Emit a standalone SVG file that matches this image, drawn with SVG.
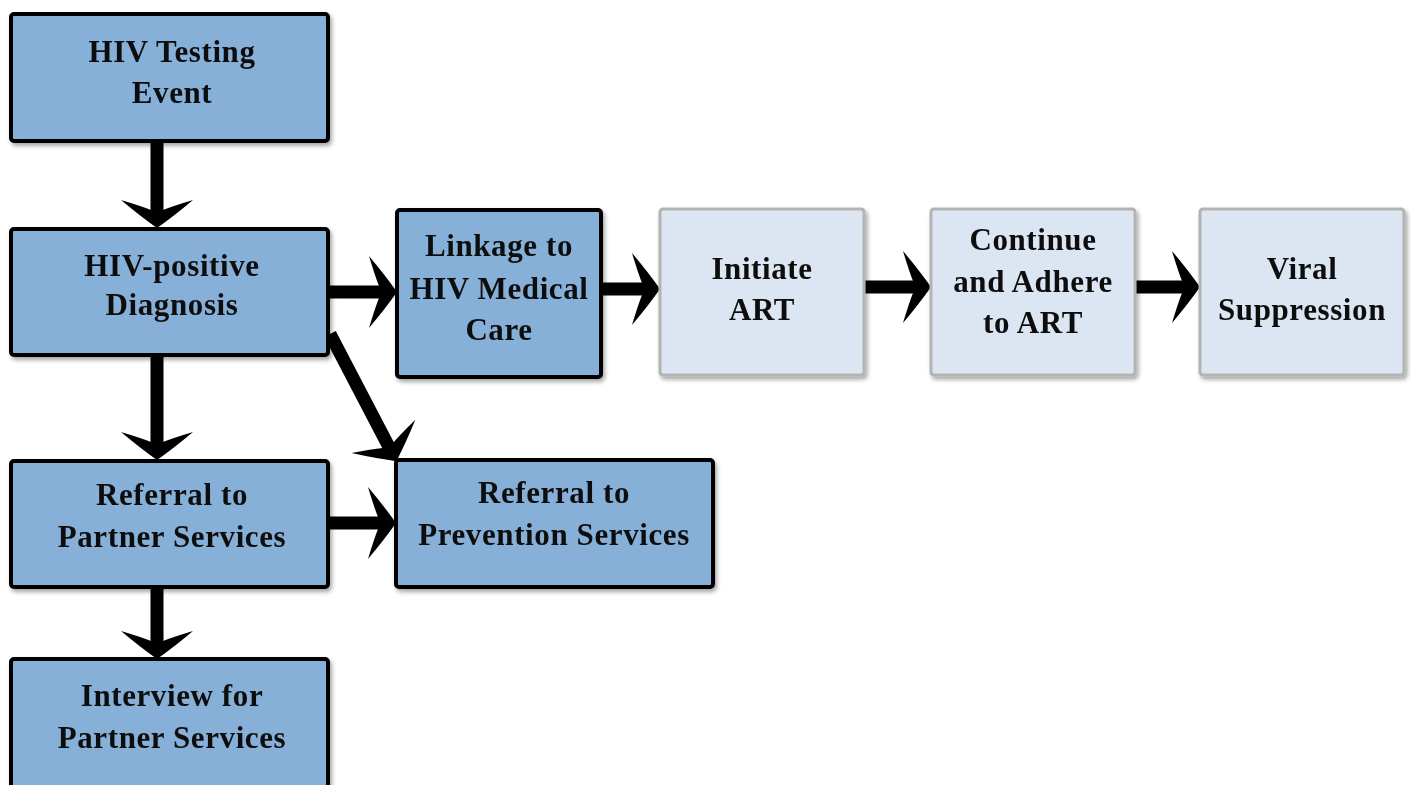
<svg xmlns="http://www.w3.org/2000/svg" width="1411" height="785" viewBox="0 0 1411 785">
<defs>
<filter id="sh" x="-10%" y="-10%" width="120%" height="130%">
<feDropShadow dx="2" dy="3" stdDeviation="2" flood-color="#000" flood-opacity="0.35"/>
</filter>
<marker id="ah" markerUnits="userSpaceOnUse" viewBox="-40 -40 50 80" markerWidth="50" markerHeight="80" refX="-16" refY="0" orient="auto">
<path d="M0,0 Q-12,-17 -28,-36 Q-22,-16 -18,-6 L-18,6 Q-22,16 -28,36 Q-12,17 0,0 Z" fill="#000"/>
</marker>
<style>
.dk{fill:#86b0d8;stroke:#000;stroke-width:4}
.lt{fill:#dbe6f2;stroke:#b3b3b3;stroke-width:3}
text{font-family:"Liberation Serif","Times New Roman",serif;font-weight:bold;font-size:31px;text-anchor:middle;fill:#111;letter-spacing:0.6px}
.c{stroke:#000;stroke-width:13;fill:none;marker-end:url(#ah)}
</style>
</defs>
<g id="connectors">
<line class="c" x1="157" y1="141" x2="157" y2="212"/>
<line class="c" x1="157" y1="355" x2="157" y2="444"/>
<line class="c" x1="157" y1="587" x2="157" y2="643"/>
<line class="c" x1="328" y1="292" x2="381" y2="292"/>
<line class="c" x1="601" y1="289" x2="644" y2="289"/>
<line class="c" x1="864" y1="287" x2="915" y2="287"/>
<line class="c" x1="1135" y1="287" x2="1184" y2="287"/>
<line class="c" x1="328" y1="523" x2="380" y2="523"/>
<line class="c" x1="330" y1="334" x2="389" y2="447"/>
</g>
<g id="n1" filter="url(#sh)"><rect class="dk" x="11" y="14" width="317" height="127" rx="3"/>
<text x="172" y="62">HIV Testing</text><text x="172" y="103">Event</text></g>
<g id="n2" filter="url(#sh)"><rect class="dk" x="11" y="229" width="317" height="126" rx="3"/>
<text x="172" y="276">HIV-positive</text><text x="172" y="315">Diagnosis</text></g>
<g id="n3" filter="url(#sh)"><rect class="dk" x="11" y="461" width="317" height="126" rx="3"/>
<text x="172" y="505">Referral to</text><text x="172" y="547">Partner Services</text></g>
<g id="n4" filter="url(#sh)"><rect class="dk" x="11" y="659" width="317" height="140" rx="3"/>
<text x="172" y="706">Interview for</text><text x="172" y="748">Partner Services</text></g>
<g id="n5" filter="url(#sh)"><rect class="dk" x="397" y="210" width="204" height="167" rx="3"/>
<text x="499" y="256">Linkage to</text><text x="499" y="299">HIV Medical</text><text x="499" y="340">Care</text></g>
<g id="n6" filter="url(#sh)"><rect class="dk" x="396" y="460" width="317" height="127" rx="3"/>
<text x="554" y="503">Referral to</text><text x="554" y="545">Prevention Services</text></g>
<g id="n7" filter="url(#sh)"><rect class="lt" x="660" y="209" width="204" height="166" rx="3"/>
<text x="762" y="279">Initiate</text><text x="762" y="320">ART</text></g>
<g id="n8" filter="url(#sh)"><rect class="lt" x="931" y="209" width="204" height="166" rx="3"/>
<text x="1033" y="250">Continue</text><text x="1033" y="292">and Adhere</text><text x="1033" y="333">to ART</text></g>
<g id="n9" filter="url(#sh)"><rect class="lt" x="1200" y="209" width="204" height="166" rx="3"/>
<text x="1302" y="279">Viral</text><text x="1302" y="320">Suppression</text></g>
</svg>
